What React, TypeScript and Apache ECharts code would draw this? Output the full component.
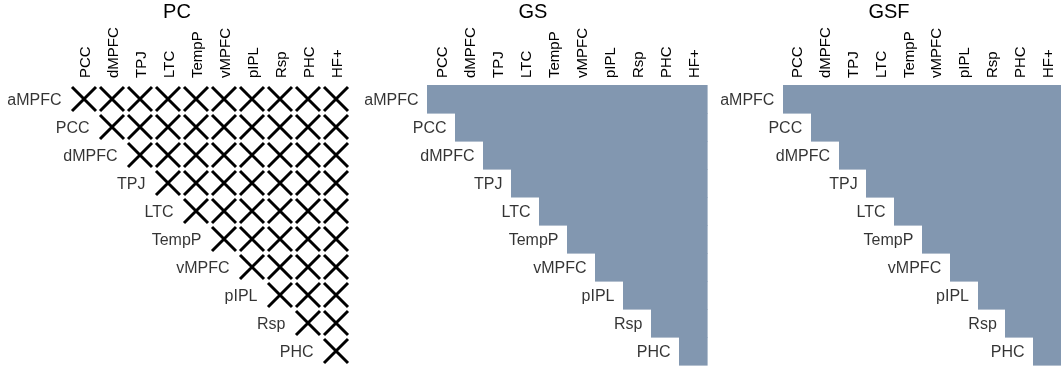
import React, { useEffect, useRef } from "react";
import * as echarts from "echarts";

const panelTitles = ["PC", "GS", "GSF"];
const rowNames = ["aMPFC", "PCC", "dMPFC", "TPJ", "LTC", "TempP", "vMPFC", "pIPL", "Rsp", "PHC"];
const colNames = ["PCC", "dMPFC", "TPJ", "LTC", "TempP", "vMPFC", "pIPL", "Rsp", "PHC", "HF+"];

// 1 = significant / marked, 0 = empty (lower triangle)
const pcMatrix = [
  [1, 1, 1, 1, 1, 1, 1, 1, 1, 1],
  [0, 1, 1, 1, 1, 1, 1, 1, 1, 1],
  [0, 0, 1, 1, 1, 1, 1, 1, 1, 1],
  [0, 0, 0, 1, 1, 1, 1, 1, 1, 1],
  [0, 0, 0, 0, 1, 1, 1, 1, 1, 1],
  [0, 0, 0, 0, 0, 1, 1, 1, 1, 1],
  [0, 0, 0, 0, 0, 0, 1, 1, 1, 1],
  [0, 0, 0, 0, 0, 0, 0, 1, 1, 1],
  [0, 0, 0, 0, 0, 0, 0, 0, 1, 1],
  [0, 0, 0, 0, 0, 0, 0, 0, 0, 1],
];
const gsMatrix = [
  [1, 1, 1, 1, 1, 1, 1, 1, 1, 1],
  [0, 1, 1, 1, 1, 1, 1, 1, 1, 1],
  [0, 0, 1, 1, 1, 1, 1, 1, 1, 1],
  [0, 0, 0, 1, 1, 1, 1, 1, 1, 1],
  [0, 0, 0, 0, 1, 1, 1, 1, 1, 1],
  [0, 0, 0, 0, 0, 1, 1, 1, 1, 1],
  [0, 0, 0, 0, 0, 0, 1, 1, 1, 1],
  [0, 0, 0, 0, 0, 0, 0, 1, 1, 1],
  [0, 0, 0, 0, 0, 0, 0, 0, 1, 1],
  [0, 0, 0, 0, 0, 0, 0, 0, 0, 1],
];
const gsfMatrix = [
  [1, 1, 1, 1, 1, 1, 1, 1, 1, 1],
  [0, 1, 1, 1, 1, 1, 1, 1, 1, 1],
  [0, 0, 1, 1, 1, 1, 1, 1, 1, 1],
  [0, 0, 0, 1, 1, 1, 1, 1, 1, 1],
  [0, 0, 0, 0, 1, 1, 1, 1, 1, 1],
  [0, 0, 0, 0, 0, 1, 1, 1, 1, 1],
  [0, 0, 0, 0, 0, 0, 1, 1, 1, 1],
  [0, 0, 0, 0, 0, 0, 0, 1, 1, 1],
  [0, 0, 0, 0, 0, 0, 0, 0, 1, 1],
  [0, 0, 0, 0, 0, 0, 0, 0, 0, 1],
];

const FONT = "'Liberation Sans', Arial, Helvetica, sans-serif";
const FILL = "#8297b0";
const CELL_W = 28;
const CELL_H = 28;
const gridLefts = [70, 427, 783];
const titleXs = [177, 533, 889];
const GRID_TOP = 85;

function toCells(m: number[][]) {
  const out: number[][] = [];
  m.forEach((row, r) => row.forEach((v, c) => { if (v) out.push([c, r, v]); }));
  return out;
}

function cellRender(params: any, api: any) {
  const c = api.coord([api.value(0), api.value(1)]);
  const s = api.size([1, 1]);
  return {
    type: "rect",
    shape: {
      x: Math.round(c[0] - s[0] / 2),
      y: Math.round(c[1] - s[1] / 2),
      width: Math.round(s[0]) + 0.6,
      height: Math.round(s[1]) + 0.6,
    },
    style: { fill: FILL, stroke: "none" },
  };
}

export default function App() {
  const ref = useRef<HTMLDivElement>(null);
  useEffect(() => {
    if (!ref.current) return;
    const chart = echarts.init(ref.current, null, { renderer: "svg" });
    const grids = gridLefts.map((l) => ({
      left: l,
      top: GRID_TOP,
      width: CELL_W * colNames.length,
      height: CELL_H * rowNames.length,
      containLabel: false,
    }));
    const xAxes = gridLefts.map((_, i) => ({
      type: "category",
      gridIndex: i,
      data: colNames,
      position: "top",
      axisLine: { show: false },
      axisTick: { show: false },
      splitLine: { show: false },
      axisLabel: { rotate: -90, margin: 7, fontSize: 15, color: "#000", fontFamily: FONT, interval: 0 },
    }));
    const yAxes = gridLefts.map((_, i) => ({
      type: "category",
      gridIndex: i,
      data: rowNames,
      inverse: true,
      show: false,
    }));
    const diagLabels = (i: number) => ({
      type: "scatter",
      xAxisIndex: i,
      yAxisIndex: i,
      symbolSize: 1,
      itemStyle: { color: "rgba(0,0,0,0)" },
      silent: true,
      data: rowNames.map((n, r) => ({ value: [r, r], name: n })),
      label: {
        show: true,
        position: "left",
        distance: CELL_W / 2 + 8,
        formatter: (p: any) => p.name,
        fontSize: 16,
        color: "#000",
        fontFamily: FONT,
      },
      z: 5,
    });
    const series: any[] = [
      {
        type: "scatter",
        xAxisIndex: 0,
        yAxisIndex: 0,
        symbol: "path://M0,0L100,100M100,0L0,100",
        symbolSize: 24,
        itemStyle: { color: "none", borderColor: "#000", borderWidth: 3, opacity: 1 },
        data: toCells(pcMatrix),
      },
      {
        type: "custom",
        xAxisIndex: 1,
        yAxisIndex: 1,
        renderItem: cellRender,
        data: toCells(gsMatrix),
      },
      {
        type: "custom",
        xAxisIndex: 2,
        yAxisIndex: 2,
        renderItem: cellRender,
        data: toCells(gsfMatrix),
      },
      diagLabels(0),
      diagLabels(1),
      diagLabels(2),
    ];
    chart.setOption({
      animation: false,
      grid: grids,
      xAxis: xAxes,
      yAxis: yAxes,
      graphic: panelTitles.map((t, i) => ({
        type: "text",
        x: titleXs[i],
        y: 1,
        style: { text: t, fontSize: 20, fontFamily: FONT, fill: "#000", textAlign: "center", textVerticalAlign: "top" },
      })),
      series,
    });
    return () => chart.dispose();
  }, []);
  return <div ref={ref} style={{ position: "fixed", left: 0, top: 0, width: 1061, height: 369 }} />;
}
